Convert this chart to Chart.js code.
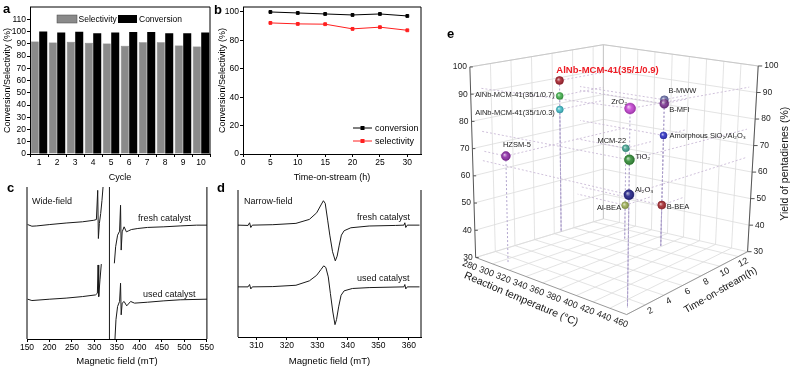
<!DOCTYPE html>
<html>
<head>
<meta charset="utf-8">
<script src="https://cdn.jsdelivr.net/npm/chart.js@4.4.1/dist/chart.umd.min.js"></script>
<style>
body{margin:0;background:#fff;width:800px;height:367px;overflow:hidden;position:relative;font-family:"Liberation Sans",Arial,sans-serif}
.p{position:absolute}
.tag{position:absolute;font-weight:bold;font-size:13px;line-height:13px;color:#000}
</style>
</head>
<body>
<div class="p" style="left:0;top:0"><canvas id="ca" width="215" height="185"></canvas></div>
<div class="p" style="left:215px;top:0"><canvas id="cb" width="215" height="185"></canvas></div>
<div class="p" style="left:0;top:185px"><canvas id="cc" width="215" height="182"></canvas></div>
<div class="p" style="left:215px;top:185px"><canvas id="cd" width="215" height="182"></canvas></div>
<div class="p" style="left:430px;top:0"><canvas id="ce" width="370" height="367"></canvas></div>
<div class="tag" style="left:3px;top:2px">a</div>
<div class="tag" style="left:214px;top:3px">b</div>
<div class="tag" style="left:7px;top:181px">c</div>
<div class="tag" style="left:217px;top:181px">d</div>
<div class="tag" style="left:447px;top:27px">e</div>
<script>
// ---- panel a : recycling ----
var cycles = ["1","2","3","4","5","6","7","8","9","10"];
var selectivityA = [91.8, 91.0, 91.6, 90.8, 90.2, 88.3, 91.3, 91.3, 88.6, 87.8];
var conversionA = [100, 99.2, 99.7, 98.6, 99.2, 99.5, 99.5, 98.6, 98.6, 99.2];
var aYTicks = [0, 10, 20, 30, 40, 50, 60, 70, 80, 90, 100, 110];

// ---- panel b : time on stream ----
var bTime = [5, 10, 15, 20, 25, 30];
var bConversion = [100, 99.3, 98.6, 97.9, 98.6, 97.2];
var bSelectivity = [92.3, 91.6, 91.4, 88.1, 89.3, 87.1];
var bXTicks = [0, 5, 10, 15, 20, 25, 30];
var bYTicks = [0, 20, 40, 60, 80, 100];

// ---- panel c : wide-field EPR (field mT, intensity a.u.) ----
var cFreshLow = [[151.4,75.3],[160.9,74.2],[171.7,74.4],[200.7,75.3],[237,76.3],[273.2,77.1],[298.5,78.1],[304.3,78.6],[307.2,97.8],[308.7,66.1],[310.9,76],[313.8,82.5],[316.7,91.2],[319.6,102]];
var cFreshHigh = [[344.2,49.8],[347.1,60.7],[351.4,68.3],[355.8,70.9],[358,88],[359.4,58.5],[361.6,70.5],[365.9,73.8],[371,70.5],[376.1,71.2],[381.9,72],[396.4,72.7],[418.1,73.4],[454.3,73.8],[490.6,74.4],[526.8,74.9],[550,74.9]];
var cUsedLow = [[151.4,26.2],[160.9,25.3],[200.7,26.2],[237,26.9],[273.2,27.9],[302.2,29],[306.5,30.1],[308,48.7],[309.4,27.9],[312.3,38.9],[315.2,49.3]];
var cUsedHigh = [[345.6,0],[347.8,12.7],[351.4,21.4],[355.8,24.7],[358,36.7],[359.4,15.9],[361.6,23.6],[365.9,24.7],[371.7,21.8],[380.4,24.7],[389.1,23.6],[418.1,24.2],[454.3,25.1],[490.6,25.8],[550,26.2]];
var cOffScale = [[333.3,0],[333.3,102]];
var cTicks = [150, 200, 250, 300, 350, 400, 450, 500, 550];

// ---- panel d : narrow-field EPR ----
var dFresh = [[304,76.1],[307.3,75.9],[307.8,77.7],[308.2,74.5],[308.7,76.1],[315.4,76.4],[323,77.3],[327.4,80],[329.8,84.5],[331.2,89.8],[332,92.7],[332.6,90.9],[333.4,79.5],[334.1,69.3],[335,58],[335.9,51.8],[336.5,55],[337.2,62.5],[337.9,69.3],[338.8,72.3],[341,74.3],[347,75.5],[355.7,75.9],[358.4,76.1],[358.7,77.7],[359,74.5],[359.5,76.1],[363.5,76.1]];
var dUsed = [[304,34.1],[307.3,34.1],[307.8,35.7],[308.2,32.7],[308.7,34.1],[315.4,34.3],[323,35.2],[327.4,38.2],[329.8,42],[331.2,45.9],[332.1,48.4],[332.8,47.3],[333.6,40.9],[334.3,29.5],[335.1,17],[335.8,8.4],[336.3,11.8],[337,20.5],[337.8,28.4],[338.8,31.4],[341.5,33],[347,33.6],[358.4,34.1],[358.7,35.7],[359,32.7],[359.5,34.1],[363.5,34.1]];
var dTicks = [310, 320, 330, 340, 350, 360];

// ---- panel e : catalyst screening (temperature degC, time h, yield %) ----
var eNames = ["AlNb-MCM-41(35/1/0.9)","AlNb-MCM-41(35/1/0.7)","AlNb-MCM-41(35/1/0.3)","HZSM-5","ZrO\u2082","B-MWW","B-MFI","Amorphous SiO\u2082/Al\u2082O\u2083","MCM-22","TiO\u2082","Al\u2082O\u2083","Al-BEA","B-BEA"];
var eTemp = [280, 280, 280, 307, 451, 379, 379, 379, 338, 451, 451, 338, 379];
var eTime = [8.7, 8.7, 8.7, 1.0, 0.9, 10.7, 10.7, 10.7, 10.4, 0.9, 0.9, 10.4, 10.7];
var eYield = [88.9, 82.9, 77.6, 68.3, 91.6, 85.0, 83.5, 71.6, 64.6, 75.7, 64.9, 42.8, 45.4];
var tempTicks = [280, 300, 320, 340, 360, 380, 400, 420, 440, 460];
var timeTicks = [2, 4, 6, 8, 10, 12];
var yieldTicks = [30, 40, 50, 60, 70, 80, 90, 100];

// styles for panel e
var eColors = ["#a51e2a","#3fae49","#3cb8c4","#8b2aa5","#c23fd0","#6b6fa8","#7a2f90","#2b2fc4","#3ea08e","#2e8a32","#1f1f86","#9aab52","#a3272d"];
var eRadius = [4, 3.5, 3.5, 4.5, 5.5, 4, 4.5, 3.5, 3.5, 5, 5, 3.5, 4];
// label offset (dx, dy, align)
var eLabelPos = [[48,-10,"center"],[-5,-1,"right"],[-5,3,"right"],[11,-11,"center"],[-3,-7,"right"],[4,-9,"left"],[5,6,"left"],[6,1,"left"],[-14,-7,"center"],[6,-3,"left"],[6,-5,"left"],[-4,3,"right"],[5,2,"left"]];

var FONT = '"Liberation Sans", Arial, sans-serif';
Chart.defaults.font.family = FONT;
Chart.defaults.color = "#000";

function pairs(arr){ return arr.map(function(p){ return {x:p[0], y:p[1]}; }); }
function fixedTicks(list){ return function(s){ s.ticks = list.map(function(v){ return {value:v}; }); }; }

function framePlugin(sides){
	return {
		id:"frame",
		afterDraw:function(chart){
			var a = chart.chartArea, c = chart.ctx;
			c.save();
			c.strokeStyle = "#000";
			c.lineWidth = 1;
			c.beginPath();
			if (sides.indexOf("t") >= 0) { c.moveTo(a.left, a.top); c.lineTo(a.right, a.top); }
			if (sides.indexOf("r") >= 0) { c.moveTo(a.right, a.top); c.lineTo(a.right, a.bottom); }
			if (sides.indexOf("l") >= 0) { c.moveTo(a.left, a.top); c.lineTo(a.left, a.bottom); }
			c.stroke();
			c.restore();
		}
	};
}

// free text notes, canvas coordinates
function notesPlugin(notes){
	return {
		id:"notes",
		afterDraw:function(chart){
			var c = chart.ctx;
			c.save();
			c.fillStyle = "#111";
			c.font = "9px " + FONT;
			c.textBaseline = "middle";
			notes.forEach(function(n){ c.fillText(n[0], n[1], n[2]); });
			c.restore();
		}
	};
}

function tickAxis(extra){
	var base = {
		grid:{display:true, drawOnChartArea:false, tickLength:3, tickColor:"#000"},
		border:{color:"#000"},
		ticks:{font:{size:8.5}, padding:1, color:"#000", autoSkip:false, maxRotation:0}
	};
	return Object.assign(base, extra);
}

// -------- panel a --------
var legendA = {
	id:"legendA",
	afterDraw:function(chart){
		var c = chart.ctx;
		c.save();
		c.font = "8.5px " + FONT;
		c.textBaseline = "middle";
		c.fillStyle = "#8a8a8a"; c.fillRect(57, 15, 20, 8);
		c.strokeStyle = "#444"; c.lineWidth = 0.5; c.strokeRect(57, 15, 20, 8);
		c.fillStyle = "#000"; c.fillText("Selectivity", 78.5, 19.5);
		c.fillRect(118, 15, 19, 8);
		c.fillText("Conversion", 139, 19.5);
		c.restore();
	}
};

new Chart(document.getElementById("ca"), {
	type:"bar",
	data:{
		labels:cycles,
		datasets:[
			{label:"Selectivity", data:selectivityA, backgroundColor:"#8a8a8a", borderColor:"#444", borderWidth:0.5, categoryPercentage:0.94, barPercentage:0.95},
			{label:"Conversion", data:conversionA, backgroundColor:"#000", categoryPercentage:0.94, barPercentage:0.95}
		]
	},
	options:{
		responsive:false, animation:false, devicePixelRatio:1,
		layout:{padding:{top:7, right:5}},
		plugins:{legend:{display:false}, tooltip:{enabled:false}},
		scales:{
			x:tickAxis({
				title:{display:true, text:"Cycle", font:{size:9}, padding:{top:2, bottom:2}},
				afterFit:function(s){ s.height = 31; }
			}),
			y:tickAxis({
				min:0, max:120,
				afterBuildTicks:fixedTicks(aYTicks),
				title:{display:true, text:"Conversion/Selectivity (%)", font:{size:9}, padding:{top:2, bottom:0}},
				afterFit:function(s){ s.width = 30; }
			})
		}
	},
	plugins:[framePlugin("tr"), legendA]
});

// -------- panel b --------
var legendB = {
	id:"legendB",
	afterDraw:function(chart){
		var c = chart.ctx;
		c.save();
		c.font = "9px " + FONT;
		c.textBaseline = "middle";
		[["conversion", "#000", 128], ["selectivity", "#ff1f1f", 141]].forEach(function(it){
			c.strokeStyle = it[1]; c.fillStyle = it[1]; c.lineWidth = 1;
			c.beginPath(); c.moveTo(138, it[2]); c.lineTo(157, it[2]); c.stroke();
			c.fillRect(145.5, it[2] - 2, 4, 4);
			c.fillStyle = "#000";
			c.fillText(it[0], 160, it[2] + 0.5);
		});
		c.restore();
	}
};

new Chart(document.getElementById("cb"), {
	type:"scatter",
	data:{
		datasets:[
			{label:"conversion", data:bTime.map(function(x, i){ return {x:x, y:bConversion[i]}; }), showLine:true, borderColor:"#000", backgroundColor:"#000", borderWidth:1, pointStyle:"rect", pointRadius:2},
			{label:"selectivity", data:bTime.map(function(x, i){ return {x:x, y:bSelectivity[i]}; }), showLine:true, borderColor:"#ff1f1f", backgroundColor:"#ff1f1f", borderWidth:1, pointStyle:"rect", pointRadius:2}
		]
	},
	options:{
		responsive:false, animation:false, devicePixelRatio:1,
		layout:{padding:{top:7, right:9}},
		plugins:{legend:{display:false}, tooltip:{enabled:false}},
		scales:{
			x:tickAxis({
				min:0, max:32.5,
				afterBuildTicks:fixedTicks(bXTicks),
				title:{display:true, text:"Time-on-stream (h)", font:{size:9}, padding:{top:2, bottom:2}},
				afterFit:function(s){ s.height = 31; }
			}),
			y:tickAxis({
				min:0, max:103.5,
				afterBuildTicks:fixedTicks(bYTicks),
				title:{display:true, text:"Conversion/Selectivity (%)", font:{size:9}, padding:{top:2, bottom:0}},
				afterFit:function(s){ s.width = 28; }
			})
		}
	},
	plugins:[framePlugin("tr"), legendB]
});

// -------- panel c --------
function eprLine(arr){
	return {data:pairs(arr), showLine:true, borderColor:"#1a1a1a", borderWidth:1, pointRadius:0, tension:0};
}

new Chart(document.getElementById("cc"), {
	type:"scatter",
	data:{datasets:[eprLine(cFreshLow), eprLine(cFreshHigh), eprLine(cUsedLow), eprLine(cUsedHigh), eprLine(cOffScale)]},
	options:{
		responsive:false, animation:false, devicePixelRatio:1,
		layout:{padding:{top:2, right:4, left:27}},
		plugins:{legend:{display:false}, tooltip:{enabled:false}},
		scales:{
			x:tickAxis({
				min:150, max:550,
				afterBuildTicks:fixedTicks(cTicks),
				title:{display:true, text:"Magnetic field (mT)", font:{size:9.5}, padding:{top:2, bottom:0}},
				afterFit:function(s){ s.height = 28; }
			}),
			y:{display:false, min:0, max:100}
		}
	},
	plugins:[framePlugin("lr"), notesPlugin([["Wide-field", 32, 17], ["fresh catalyst", 138, 34], ["used catalyst", 143, 110]])]
});

// -------- panel d --------
new Chart(document.getElementById("cd"), {
	type:"scatter",
	data:{datasets:[eprLine(dFresh), eprLine(dUsed)]},
	options:{
		responsive:false, animation:false, devicePixelRatio:1,
		layout:{padding:{top:5, right:9, left:23}},
		plugins:{legend:{display:false}, tooltip:{enabled:false}},
		scales:{
			x:tickAxis({
				min:304, max:364,
				afterBuildTicks:fixedTicks(dTicks),
				title:{display:true, text:"Magnetic field (mT)", font:{size:9.5}, padding:{top:2, bottom:0}},
				afterFit:function(s){ s.height = 30; }
			}),
			y:{display:false, min:0, max:100}
		}
	},
	plugins:[framePlugin("lr"), notesPlugin([["Narrow-field", 29, 17], ["fresh catalyst", 142, 33], ["used catalyst", 142, 94]])]
});

// -------- panel e : 3D box projected onto page pixels --------
var eTimeMax = 13;
var eBox = {
	L:[471,260], F:[627,319], R:[752,254], B:[603,220],
	LT:[465,63], FT:[630,80], RT:[763,62], BT:[603,40]
};
function lerp(a, b, s){ return [a[0] + (b[0] - a[0]) * s, a[1] + (b[1] - a[1]) * s]; }
function proj(T, t, Y){
	var u = (T - 280) / 180, v = t / eTimeMax, w = (Y - 30) / 70;
	var bot = lerp(lerp(eBox.L, eBox.F, u), lerp(eBox.B, eBox.R, u), v);
	var top = lerp(lerp(eBox.LT, eBox.FT, u), lerp(eBox.BT, eBox.RT, u), v);
	return lerp(bot, top, w);
}

var e3d = {
	id:"e3d",
	beforeDatasetsDraw:function(chart){
		var c = chart.ctx, sx = chart.scales.x, sy = chart.scales.y;
		function px(p){ return [sx.getPixelForValue(p[0]), sy.getPixelForValue(p[1])]; }
		function seg(a, b, col, lw, dash){
			var p = px(a), q = px(b);
			c.strokeStyle = col; c.lineWidth = lw; c.setLineDash(dash || []);
			c.beginPath(); c.moveTo(p[0], p[1]); c.lineTo(q[0], q[1]); c.stroke();
		}
		c.save();
		var g = "#dcdcdc";
		// floor
		tempTicks.forEach(function(T){ seg(proj(T, 0, 30), proj(T, eTimeMax, 30), g, 0.8); });
		timeTicks.forEach(function(t){ seg(proj(280, t, 30), proj(460, t, 30), g, 0.8); });
		// left wall
		yieldTicks.forEach(function(Y){ seg(proj(280, 0, Y), proj(280, eTimeMax, Y), g, 0.8); });
		timeTicks.forEach(function(t){ seg(proj(280, t, 30), proj(280, t, 100), g, 0.8); });
		// back wall
		yieldTicks.forEach(function(Y){ seg(proj(280, eTimeMax, Y), proj(460, eTimeMax, Y), g, 0.8); });
		tempTicks.forEach(function(T){ seg(proj(T, eTimeMax, 30), proj(T, eTimeMax, 100), g, 0.8); });
		// box edges
		seg(proj(280, eTimeMax, 30), proj(280, eTimeMax, 100), "#c8c8c8", 1);
		seg(proj(280, 0, 100), proj(280, eTimeMax, 100), "#c8c8c8", 1);
		seg(proj(280, eTimeMax, 100), proj(460, eTimeMax, 100), "#c8c8c8", 1);
		// drop lines and wall projections
		eNames.forEach(function(n, i){
			var P = proj(eTemp[i], eTime[i], eYield[i]);
			seg(P, proj(eTemp[i], eTime[i], 30), "#a99cc8", 0.9, [2, 2]);
			seg(P, proj(280, eTime[i], eYield[i]), "#c4b2d2", 0.8, [2, 2]);
			seg(P, proj(eTemp[i], eTimeMax, eYield[i]), "#c4b2d2", 0.8, [2, 2]);
		});
		c.setLineDash([]);
		// axes
		seg(proj(280, 0, 30), proj(280, 0, 100), "#555", 1);
		seg(proj(460, eTimeMax, 30), proj(460, eTimeMax, 100), "#555", 1);
		seg(proj(280, 0, 30), proj(460, 0, 30), "#999", 1);
		seg(proj(460, 0, 30), proj(460, eTimeMax, 30), "#999", 1);
		c.restore();
	},
	afterDatasetsDraw:function(chart){
		var c = chart.ctx, sx = chart.scales.x, sy = chart.scales.y;
		function px(p){ return [sx.getPixelForValue(p[0]), sy.getPixelForValue(p[1])]; }
		c.save();
		// sphere highlights
		var meta = chart.getDatasetMeta(0);
		meta.data.forEach(function(el, i){
			var r = eRadius[i];
			var gr = c.createRadialGradient(el.x - r / 3, el.y - r / 3, 0, el.x, el.y, r);
			gr.addColorStop(0, "rgba(255,255,255,0.75)");
			gr.addColorStop(0.5, "rgba(255,255,255,0.1)");
			gr.addColorStop(1, "rgba(0,0,0,0.25)");
			c.fillStyle = gr;
			c.beginPath(); c.arc(el.x, el.y, r, 0, Math.PI * 2); c.fill();
		});
		// point labels
		c.textBaseline = "middle";
		meta.data.forEach(function(el, i){
			var o = eLabelPos[i];
			if (i == 0) { c.font = "bold 9.5px " + FONT; c.fillStyle = "#ee1c25"; }
			else { c.font = "7.5px " + FONT; c.fillStyle = "#222"; }
			c.textAlign = o[2];
			c.fillText(eNames[i], el.x + o[0], el.y + o[1]);
		});
		// yield ticks left / right
		c.font = "8.5px " + FONT; c.fillStyle = "#222"; c.strokeStyle = "#555"; c.lineWidth = 1;
		yieldTicks.forEach(function(Y){
			var p = px(proj(280, 0, Y));
			c.textAlign = "right"; c.fillText(String(Y), p[0] - 3, p[1]);
			c.beginPath(); c.moveTo(p[0], p[1]); c.lineTo(p[0] + 3, p[1]); c.stroke();
			var q = px(proj(460, eTimeMax, Y));
			c.beginPath(); c.moveTo(q[0], q[1]); c.lineTo(q[0] + 4, q[1]); c.stroke();
			c.textAlign = "left"; c.fillText(String(Y), q[0] + 6, q[1]);
		});
		// temperature ticks
		c.font = "9px " + FONT;
		c.textAlign = "center";
		tempTicks.forEach(function(T){
			var p = px(proj(T, 0, 30));
			c.save(); c.translate(p[0] - 6, p[1] + 8); c.rotate(21 * Math.PI / 180);
			c.fillText(String(T), 0, 0); c.restore();
		});
		// time ticks
		timeTicks.forEach(function(t){
			var p = px(proj(460, t, 30));
			c.save(); c.translate(p[0] + 5, p[1] + 6); c.rotate(-28 * Math.PI / 180);
			c.fillText(String(t), 0, 0); c.restore();
		});
		// axis titles
		c.fillStyle = "#111";
		c.font = "10.5px " + FONT;
		c.save(); c.translate(sx.getPixelForValue(518), sy.getPixelForValue(303)); c.rotate(23 * Math.PI / 180);
		c.fillText("Reaction temperature (\u00b0C)", 0, 0); c.restore();
		c.font = "10px " + FONT;
		c.save(); c.translate(sx.getPixelForValue(724), sy.getPixelForValue(294)); c.rotate(-30 * Math.PI / 180);
		c.fillText("Time-on-stream(h)", 0, 0); c.restore();
		c.font = "10.5px " + FONT;
		c.save(); c.translate(sx.getPixelForValue(791), sy.getPixelForValue(163)); c.rotate(-Math.PI / 2);
		c.fillText("Yield of pentadienes (%)", 0, 0); c.restore();
		c.restore();
	}
};

new Chart(document.getElementById("ce"), {
	type:"scatter",
	data:{
		datasets:[{
			data:eNames.map(function(n, i){ var p = proj(eTemp[i], eTime[i], eYield[i]); return {x:p[0], y:p[1]}; }),
			pointRadius:eRadius,
			pointBackgroundColor:eColors,
			pointBorderColor:eColors,
			pointBorderWidth:0.5
		}]
	},
	options:{
		responsive:false, animation:false, devicePixelRatio:1,
		layout:{padding:0},
		plugins:{legend:{display:false}, tooltip:{enabled:false}},
		scales:{
			x:{display:false, min:430, max:800},
			y:{display:false, min:0, max:367, reverse:true}
		}
	},
	plugins:[e3d]
});
</script>
</body>
</html>
